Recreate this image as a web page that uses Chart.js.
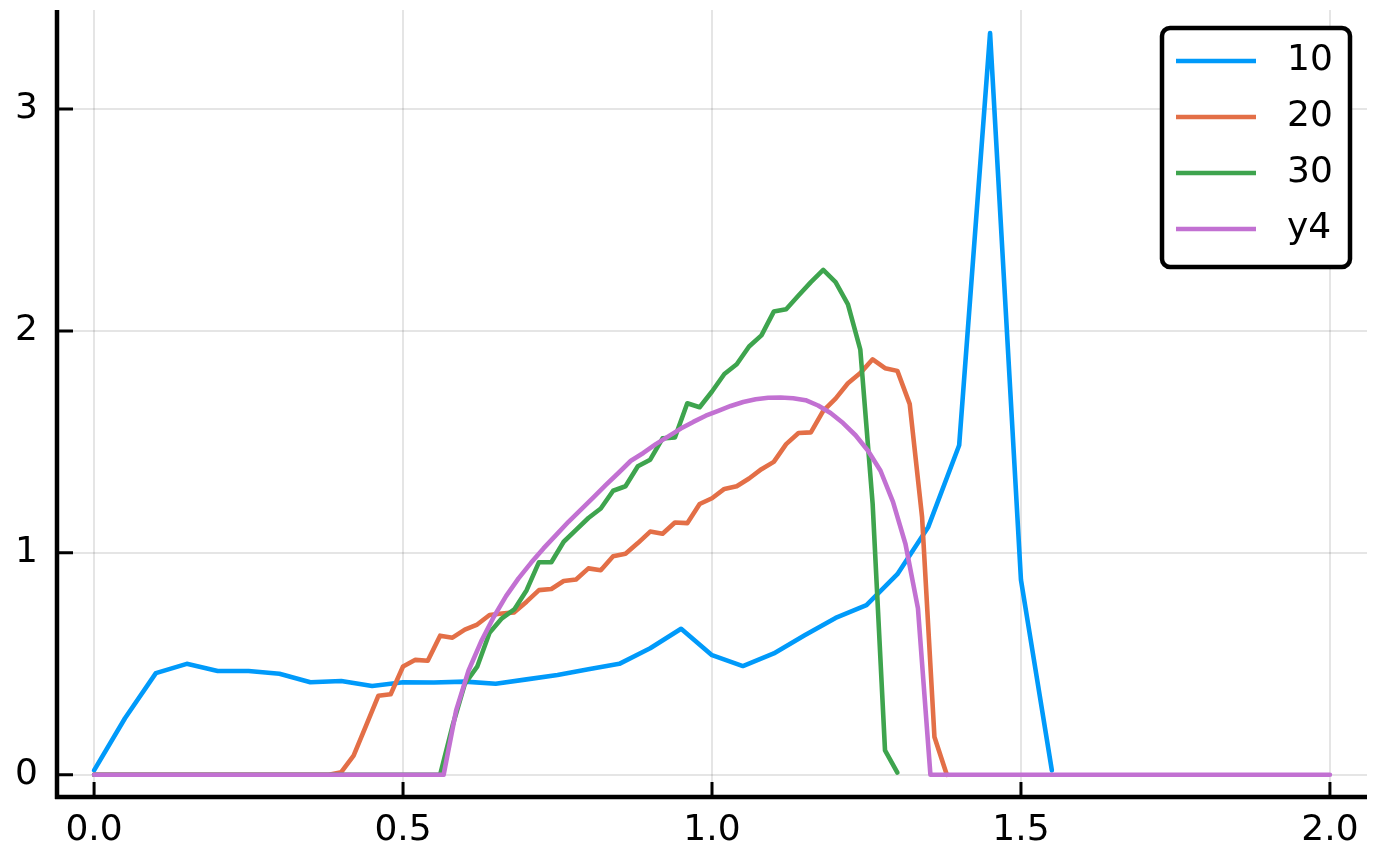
<!DOCTYPE html>
<html>
<head>
<meta charset="utf-8">
<script src="https://cdn.jsdelivr.net/npm/chart.js@4"></script>
<style>
  body { margin: 0; background: #fff; }
  #wrap { width: 1378px; height: 846px; }
</style>
</head>
<body>
<div id="wrap"><canvas id="plot" width="1378" height="846"></canvas></div>
<script>
// series "10"
const x10 = [0, 0.05, 0.1, 0.15, 0.2, 0.25, 0.3, 0.35, 0.4, 0.45, 0.5, 0.55, 0.6, 0.65, 0.7, 0.75,
  0.8, 0.85, 0.9, 0.95, 1.0, 1.05, 1.1, 1.15, 1.2, 1.25, 1.3, 1.35, 1.4, 1.45, 1.5, 1.55];
const y10 = [0.02, 0.255, 0.458, 0.5, 0.468, 0.468, 0.455, 0.417, 0.423, 0.40, 0.417, 0.416, 0.42, 0.41, 0.43, 0.45,
  0.476, 0.50, 0.57, 0.658, 0.539, 0.49, 0.547, 0.629, 0.707, 0.764, 0.904, 1.117, 1.485, 3.342, 0.878, 0.02];

// series "20"
const x20 = [0, 0.38, 0.40, 0.42, 0.44, 0.46, 0.48, 0.50, 0.52, 0.54, 0.56, 0.58, 0.60, 0.62, 0.64, 0.66,
  0.68, 0.70, 0.72, 0.74, 0.76, 0.78, 0.80, 0.82, 0.84, 0.86, 0.88, 0.90, 0.92, 0.94, 0.96, 0.98,
  1.00, 1.02, 1.04, 1.06, 1.08, 1.10, 1.12, 1.14, 1.16, 1.18, 1.20, 1.22, 1.24, 1.26, 1.28, 1.30,
  1.32, 1.34, 1.36, 1.38];
const y20 = [0, 0, 0.012, 0.086, 0.22, 0.356, 0.363, 0.488, 0.518, 0.514, 0.627, 0.618, 0.654, 0.677, 0.72, 0.727,
  0.732, 0.78, 0.832, 0.837, 0.873, 0.88, 0.93, 0.922, 0.985, 0.996, 1.044, 1.096, 1.086, 1.137, 1.134, 1.22,
  1.246, 1.288, 1.30, 1.335, 1.377, 1.41, 1.49, 1.54, 1.543, 1.64, 1.695, 1.764, 1.81, 1.872, 1.832, 1.82,
  1.67, 1.16, 0.17, 0.0];

// series "30"
const x30 = [0, 0.56, 0.58, 0.60, 0.62, 0.64, 0.66, 0.68, 0.70, 0.72, 0.74, 0.76, 0.78, 0.80, 0.82, 0.84,
  0.86, 0.88, 0.90, 0.92, 0.94, 0.96, 0.98, 1.00, 1.02, 1.04, 1.06, 1.08, 1.10, 1.12, 1.14, 1.16,
  1.18, 1.20, 1.22, 1.24, 1.26, 1.28, 1.30];
const y30 = [0, 0, 0.22, 0.41, 0.487, 0.64, 0.705, 0.745, 0.832, 0.958, 0.958, 1.05, 1.104, 1.157, 1.20, 1.28,
  1.30, 1.39, 1.42, 1.516, 1.52, 1.674, 1.656, 1.727, 1.806, 1.85, 1.93, 1.98, 2.087, 2.098, 2.16, 2.22,
  2.275, 2.22, 2.12, 1.916, 1.22, 0.11, 0.01];

// series "y4"
const x4 = [0, 0.5657, 0.5859, 0.6061, 0.6263, 0.6465, 0.6667, 0.6869, 0.7071, 0.7273, 0.7475, 0.7677,
  0.7879, 0.8081, 0.8283, 0.8485, 0.8687, 0.8889, 0.9091, 0.9293, 0.9495, 0.9697, 0.9899, 1.0101,
  1.0303, 1.0505, 1.0707, 1.0909, 1.1111, 1.1313, 1.1515, 1.1717, 1.1919, 1.2121, 1.2323, 1.2525,
  1.2727, 1.2929, 1.3131, 1.3333, 1.3535, 2.0];
const y4 = [0, 0, 0.29, 0.47, 0.60, 0.71, 0.805, 0.885, 0.955, 1.02, 1.08, 1.14,
  1.195, 1.25, 1.306, 1.36, 1.415, 1.45, 1.49, 1.525, 1.56, 1.59, 1.618, 1.64,
  1.662, 1.68, 1.692, 1.699, 1.70, 1.697, 1.688, 1.664, 1.63, 1.585, 1.53, 1.46,
  1.37, 1.23, 1.04, 0.75, 0, 0];

const xTicks = [0, 0.5, 1.0, 1.5, 2.0];
const yTicks = [0, 1, 2, 3];

const pts = (xs, ys) => xs.map((x, i) => ({ x: x, y: ys[i] }));
const tickFont = { family: 'DejaVu Sans', size: 36 };

// axes with inward ticks + boxed legend (Plots.jl look)
const plotDecor = {
    id: 'plotDecor',
    afterDraw(chart) {
        const ctx = chart.ctx;
        const a = chart.chartArea;
        const sx = chart.scales.x, sy = chart.scales.y;
        ctx.save();
        ctx.strokeStyle = '#000';
        ctx.lineWidth = 4.5;
        ctx.beginPath();
        ctx.moveTo(a.left, a.top);
        ctx.lineTo(a.left, a.bottom + 2);
        ctx.moveTo(a.left - 2, a.bottom);
        ctx.lineTo(a.right, a.bottom);
        ctx.stroke();
        ctx.lineWidth = 3;
        ctx.beginPath();
        xTicks.forEach(v => {
            const px = sx.getPixelForValue(v);
            ctx.moveTo(px, a.bottom);
            ctx.lineTo(px, a.bottom - 15);
        });
        yTicks.forEach(v => {
            const py = sy.getPixelForValue(v);
            ctx.moveTo(a.left, py);
            ctx.lineTo(a.left + 16, py);
        });
        ctx.stroke();

        // legend
        const w = 188, h = 239;
        const lx = a.right - 17 - w, ly = a.top + 18;
        ctx.fillStyle = '#fff';
        ctx.lineWidth = 4.5;
        ctx.beginPath();
        ctx.roundRect(lx, ly, w, h, 8);
        ctx.fill();
        ctx.stroke();
        ctx.font = '36px "DejaVu Sans"';
        ctx.textBaseline = 'middle';
        ctx.textAlign = 'left';
        chart.data.datasets.forEach((ds, i) => {
            const ry = ly + 33 + i * 56;
            ctx.strokeStyle = ds.borderColor;
            ctx.lineWidth = 4.5;
            ctx.beginPath();
            ctx.moveTo(lx + 14, ry);
            ctx.lineTo(lx + 94, ry);
            ctx.stroke();
            ctx.fillStyle = '#000';
            ctx.fillText(ds.label, lx + 125, ry);
        });
        ctx.restore();
    }
};

const ctx = document.getElementById('plot').getContext('2d');
const chart = new Chart(ctx, {
    type: 'line',
    data: {
        datasets: [
            { label: '10', data: pts(x10, y10), borderColor: '#009AFA', order: 4 },
            { label: '20', data: pts(x20, y20), borderColor: '#E36F47', order: 3 },
            { label: '30', data: pts(x30, y30), borderColor: '#3EA44E', order: 2 },
            { label: 'y4', data: pts(x4, y4), borderColor: '#C271D2', order: 1 }
        ]
    },
    options: {
        responsive: false,
        animation: false,
        devicePixelRatio: 1,
        layout: { padding: { top: 10, right: 11, left: 0, bottom: 0 } },
        elements: {
            point: { radius: 0 },
            line: { borderWidth: 4.6, tension: 0, borderJoinStyle: 'round', borderCapStyle: 'round', fill: false }
        },
        plugins: {
            legend: { display: false },
            tooltip: { enabled: false }
        },
        scales: {
            x: {
                type: 'linear',
                min: -0.06,
                max: 2.06,
                afterBuildTicks: s => { s.ticks = xTicks.map(v => ({ value: v })); },
                afterFit: s => { s.height = 49; s.paddingLeft = 0; s.paddingRight = 0; },
                ticks: {
                    callback: v => v.toFixed(1),
                    font: tickFont,
                    color: '#000',
                    padding: 12,
                    maxRotation: 0,
                    autoSkip: false
                },
                grid: { color: 'rgba(0,0,0,0.1)', lineWidth: 2, drawTicks: false },
                border: { display: false }
            },
            y: {
                type: 'linear',
                min: -0.1,
                max: 3.446,
                afterBuildTicks: s => { s.ticks = yTicks.map(v => ({ value: v })); },
                afterFit: s => { s.width = 57; s.paddingTop = 0; s.paddingBottom = 0; },
                ticks: {
                    callback: v => String(v),
                    font: tickFont,
                    color: '#000',
                    padding: 19
                },
                grid: { color: 'rgba(0,0,0,0.1)', lineWidth: 2, drawTicks: false },
                border: { display: false }
            }
        }
    },
    plugins: [plotDecor]
});
</script>
</body>
</html>
